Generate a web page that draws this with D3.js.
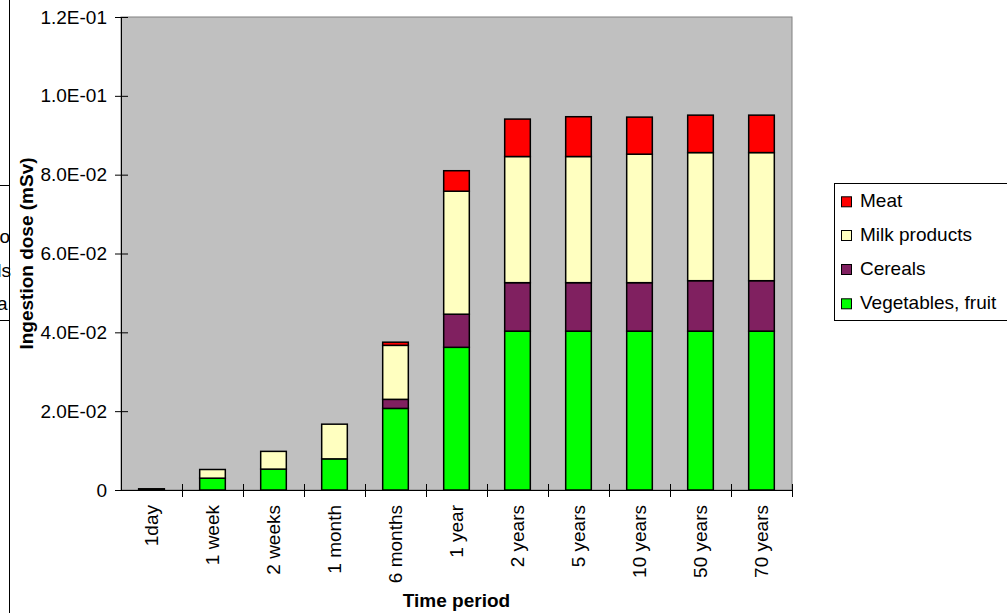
<!DOCTYPE html>
<html><head><meta charset="utf-8">
<script src="https://cdn.jsdelivr.net/npm/d3@7"></script>
<style>body{margin:0;background:#fff;} svg{display:block;font-family:Arial,"Liberation Sans",sans-serif;}</style>
</head><body>
<svg id="c" width="1007" height="613"></svg>
<script>
const categories = ["1day","1 week","2 weeks","1 month","6 months","1 year","2 years","5 years","10 years","50 years","70 years"];
const vegetables = [0.0002,0.0030,0.0053,0.0079,0.0207,0.0362,0.0403,0.0403,0.0403,0.0403,0.0403];
const cereals    = [0,0,0,0,0.0023,0.0084,0.0123,0.0123,0.0123,0.0128,0.0128];
const milk       = [0.0001,0.0022,0.0045,0.0088,0.0137,0.0312,0.0320,0.0320,0.0326,0.0325,0.0325];
const meat       = [0,0,0,0,0.0008,0.0052,0.0095,0.0101,0.0094,0.0095,0.0095];
const seriesNames = ["Vegetables, fruit","Cereals","Milk products","Meat"];
const seriesColors = ["#00FF00","#802060","#FFFFC0","#FF0000"];
const yTicks = [0,0.02,0.04,0.06,0.08,0.10,0.12];
const yTickLabels = ["0","2.0E-02","4.0E-02","6.0E-02","8.0E-02","1.0E-01","1.2E-01"];
const yTitle = "Ingestion dose (mSv)";
const xTitle = "Time period";
const FS = 19;

const svg = d3.select("#c");
const L=121, R=792, T=17, B=490;
const x = d3.scaleBand().domain(categories).range([L,R]).paddingInner(0.58).paddingOuter(0.29);
const y = d3.scaleLinear().domain([0,0.12]).range([B,T]);

// left artifacts (neighbouring object cut off)
svg.append("line").attr("x1",9.5).attr("x2",9.5).attr("y1",0).attr("y2",613).attr("stroke","#000");
svg.append("line").attr("x1",0).attr("x2",9.5).attr("y1",185.5).attr("y2",185.5).attr("stroke","#000");
svg.append("line").attr("x1",0).attr("x2",9.5).attr("y1",320.5).attr("y2",320.5).attr("stroke","#000");
[["o",10,243],["ls",11,277],["a",7.5,310]].forEach(d=>{
  svg.append("text").attr("x",d[1]).attr("y",d[2]).attr("text-anchor","end").attr("font-size",FS).text(d[0]);
});

// plot area
svg.append("rect").attr("x",L).attr("y",T).attr("width",R-L).attr("height",B-T).attr("fill","#C0C0C0").attr("stroke","#808080").attr("stroke-width",1);

// stacked data
const table = categories.map((c,i)=>({cat:c, v0:vegetables[i], v1:cereals[i], v2:milk[i], v3:meat[i]}));
const stack = d3.stack().keys(["v0","v1","v2","v3"])(table);
stack.forEach((layer,k)=>{
  svg.append("g").selectAll("rect").data(layer.filter(d=>d[1]-d[0]>0)).join("rect")
    .attr("x",d=>x(d.data.cat)).attr("width",x.bandwidth())
    .attr("y",d=>y(d[1])).attr("height",d=>y(d[0])-y(d[1]))
    .attr("fill",seriesColors[k]).attr("stroke","#000").attr("stroke-width",1.5);
});

// axes
const yAxis = d3.axisLeft(y).tickValues(yTicks).tickFormat((d,i)=>yTickLabels[i]).tickSizeInner(6).tickSizeOuter(0).tickPadding(8);
const gy = svg.append("g").attr("transform",`translate(${L},0)`).call(yAxis);
gy.selectAll("text").attr("font-size",FS).attr("fill","#000").attr("font-family","Arial, Liberation Sans, sans-serif");
gy.select(".domain").attr("stroke","#000");
gy.selectAll(".tick line").attr("x2",-6).attr("x1",7).attr("stroke","#000");

svg.append("line").attr("x1",L).attr("x2",R).attr("y1",B+0.5).attr("y2",B+0.5).attr("stroke","#000");
// x ticks at category boundaries
const step = x.step();
const bounds = d3.range(categories.length+1).map(i=>L+i*step);
svg.append("g").selectAll("line").data(bounds.slice(1)).join("line")
  .attr("x1",d=>Math.round(d)+0.5).attr("x2",d=>Math.round(d)+0.5).attr("y1",B-6).attr("y2",B+7).attr("stroke","#000");

// x labels
svg.append("g").selectAll("text").data(categories).join("text")
  .attr("transform",d=>`translate(${x(d)+x.bandwidth()/2+6.5},${505}) rotate(-90)`)
  .attr("text-anchor","end").attr("font-size",FS).text(d=>d);

// titles
svg.append("text").attr("transform",`translate(33,${(T+B)/2}) rotate(-90)`).attr("text-anchor","middle")
  .attr("font-size",FS).attr("font-weight","bold").text(yTitle);
svg.append("text").attr("x",(L+R)/2).attr("y",607).attr("text-anchor","middle")
  .attr("font-size",FS).attr("font-weight","bold").text(xTitle);

// legend
svg.append("rect").attr("x",834.5).attr("y",183.5).attr("width",200).attr("height",137).attr("fill","#fff").attr("stroke","#000");
const legOrder = [3,2,1,0];
const legY = [207.3,241,275,309.3];
legOrder.forEach((k,i)=>{
  svg.append("rect").attr("x",841.5).attr("y",legY[i]-10.5).attr("width",10).attr("height",10)
    .attr("fill",seriesColors[k]).attr("stroke","#000").attr("stroke-width",1);
  svg.append("text").attr("x",860).attr("y",legY[i]).attr("font-size",FS).text(seriesNames[k]);
});
</script>
</body></html>
